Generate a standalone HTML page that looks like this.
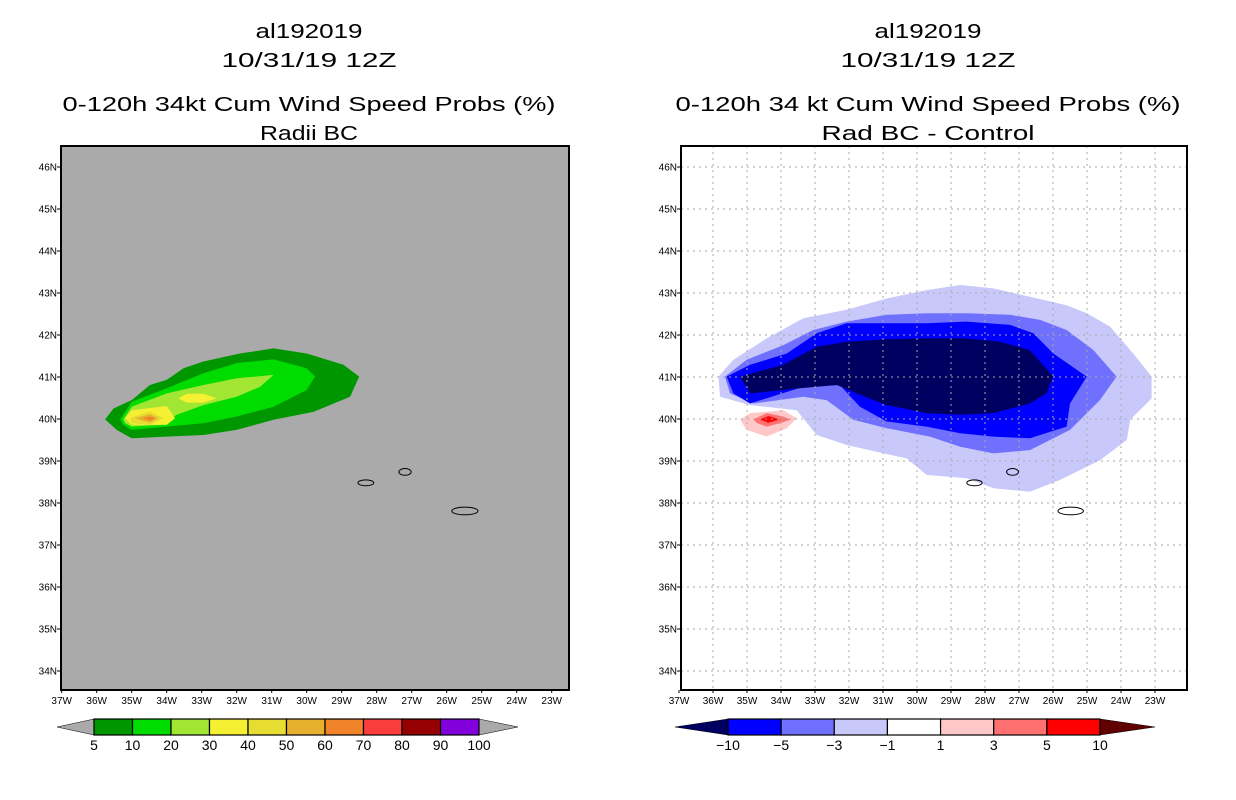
<!DOCTYPE html>
<html><head><meta charset="utf-8">
<style>
html,body{margin:0;padding:0;background:#fff;}
svg{display:block;font-family:"Liberation Sans",sans-serif;}
</style></head>
<body>
<svg id="root" width="1236" height="800" viewBox="0 0 1236 800" xmlns="http://www.w3.org/2000/svg">
  <g font-size="20" text-anchor="middle" fill="#000">
    <text x="309" y="38" textLength="107" lengthAdjust="spacingAndGlyphs">al192019</text>
    <text x="309" y="67" textLength="175" lengthAdjust="spacingAndGlyphs">10/31/19 12Z</text>
    <text x="309" y="111" textLength="493" lengthAdjust="spacingAndGlyphs">0-120h 34kt Cum Wind Speed Probs (%)</text>
    <text x="309" y="140" textLength="98" lengthAdjust="spacingAndGlyphs">Radii BC</text>
  </g>
  <g font-size="20" text-anchor="middle" fill="#000">
    <text x="928" y="38" textLength="107" lengthAdjust="spacingAndGlyphs">al192019</text>
    <text x="928" y="67" textLength="175" lengthAdjust="spacingAndGlyphs">10/31/19 12Z</text>
    <text x="928" y="111" textLength="505" lengthAdjust="spacingAndGlyphs">0-120h 34 kt Cum Wind Speed Probs (%)</text>
    <text x="928" y="140" textLength="213" lengthAdjust="spacingAndGlyphs">Rad BC - Control</text>
  </g>
  <g id="leftPanel"></g>
  <g id="rightPanel"></g>
  <g id="leftBar"></g>
  <g id="rightBar"></g>
</svg>
<script>
// ---------- data ----------
const lonTicks = [37,36,35,34,33,32,31,30,29,28,27,26,25,24,23];
const latTicks = [46,45,44,43,42,41,40,39,38,37,36,35,34];

const leftLevels = ["5","10","20","30","30b","40","50","60"];
const leftColors = ["#009600","#00dc00","#a0e632","#f5f032","#f5f032","#e6dc32","#e6af2d","#f08228"];
const leftPolys = [
 [[35.76,39.99],[35.52,40.25],[35.0,40.45],[34.48,40.81],[34.0,40.93],[33.52,41.21],[32.95,41.37],[31.91,41.56],[30.95,41.68],[30.0,41.56],[28.95,41.29],[28.5,41.01],[28.76,40.53],[29.81,40.17],[30.95,39.98],[32.0,39.74],[32.95,39.62],[34.0,39.58],[35.0,39.54],[35.43,39.74]],
 [[35.33,39.99],[35.0,40.41],[34.0,40.73],[32.95,41.09],[32.0,41.33],[30.95,41.42],[30.0,41.21],[29.76,41.01],[30.0,40.69],[30.95,40.29],[32.0,40.06],[32.95,39.9],[34.0,39.82],[35.0,39.74],[35.24,39.86]],
 [[35.24,39.99],[35.0,40.29],[34.0,40.61],[32.95,40.81],[32.0,40.97],[30.95,41.05],[31.33,40.77],[32.0,40.53],[32.95,40.33],[33.71,40.1],[34.19,39.86],[35.0,39.82],[35.19,39.9]],
 [[35.19,40.02],[35.0,40.21],[34.0,40.31],[33.76,40.02],[34.0,39.86],[35.0,39.86]],
 [[33.67,40.49],[33.43,40.6],[32.95,40.6],[32.57,40.49],[32.95,40.39],[33.43,40.39]],
 [[35.05,40.02],[34.48,40.18],[34.1,40.02],[34.48,39.86],[35.0,39.9]],
 [[34.91,40.02],[34.48,40.11],[34.24,40.02],[34.48,39.91]],
 [[34.67,40.02],[34.48,40.06],[34.33,40.02],[34.48,39.96]]
];

const rightLevels = ["-1","-3","-5","-10","1","3","5"];
const rightColors = ["#c8c8fa","#7070ff","#0000ff","#000060","#ffc8c8","#ff7070","#ff0000"];
const rightPolys = [
 [[35.84,41.01],[35.4,41.41],[34.42,41.92],[33.34,42.4],[32.07,42.6],[30.89,42.87],[29.72,43.07],[28.73,43.19],[27.75,43.11],[26.68,42.91],[25.6,42.71],[25.01,42.52],[24.32,42.2],[23.64,41.56],[23.1,41.01],[23.1,40.49],[23.73,39.98],[23.83,39.5],[24.62,39.02],[25.79,38.55],[26.68,38.27],[27.75,38.35],[28.54,38.59],[29.72,38.67],[30.3,39.06],[32.07,39.38],[32.95,39.62],[33.54,40.21],[34.91,40.33],[35.79,40.53]],
 [[35.65,41.01],[35.01,41.41],[33.93,41.76],[33.05,42.12],[32.07,42.32],[30.89,42.48],[29.72,42.52],[28.54,42.52],[27.26,42.48],[26.38,42.36],[25.6,42.12],[24.81,41.64],[24.13,41.01],[24.62,40.45],[25.5,39.74],[26.68,39.26],[27.75,39.18],[28.73,39.34],[29.62,39.58],[30.89,39.78],[31.87,39.98],[32.66,40.45],[33.34,40.53],[34.81,40.37],[35.5,40.61]],
 [[35.6,41.01],[34.91,41.29],[33.83,41.56],[32.95,42.04],[32.07,42.28],[30.89,42.28],[29.72,42.28],[28.54,42.32],[27.26,42.24],[26.58,42.04],[25.99,41.56],[25.01,41.01],[25.5,40.37],[25.6,39.82],[26.68,39.54],[27.75,39.58],[28.73,39.66],[29.72,39.82],[30.89,39.94],[31.68,40.29],[32.27,40.81],[33.34,40.77],[34.91,40.37],[35.4,40.61]],
 [[35.21,41.01],[33.93,41.29],[32.95,41.72],[32.07,41.84],[30.89,41.9],[29.72,41.92],[28.54,41.92],[27.56,41.84],[26.68,41.64],[25.99,41.01],[26.19,40.61],[26.68,40.37],[27.75,40.14],[28.73,40.1],[29.72,40.14],[30.89,40.33],[31.77,40.61],[32.36,40.81],[33.44,40.73],[34.91,40.61]],
 [[35.2,39.98],[34.91,40.14],[33.93,40.21],[33.54,40.02],[33.83,39.78],[34.42,39.58],[35.01,39.74]],
 [[34.81,39.99],[34.42,40.14],[33.93,40.06],[33.73,39.98],[34.03,39.9],[34.42,39.82],[34.72,39.91]],
 [[34.62,39.99],[34.37,40.07],[34.03,39.99],[34.37,39.91]]
];

const islandLon = [28.31, 27.19, 25.48];
const islandLat = [38.48, 38.74, 37.81];
const islandW = [0.45, 0.35, 0.75];
const islandH = [0.07, 0.09, 0.11];

const leftBarLabels = ["5","10","20","30","40","50","60","70","80","90","100"];
const leftBarColors = ["#009600","#00dc00","#a0e632","#f5f032","#e6dc32","#e6af2d","#f08228","#fa3c3c","#960000","#8200dc"];
const rightBarLabels = ["\u221210","\u22125","\u22123","\u22121","1","3","5","10"];
const rightBarColors = ["#0000ff","#7070ff","#c8c8fa","#ffffff","#ffc8c8","#ff7070","#ff0000"];

// ---------- drawing ----------
const NS = "http://www.w3.org/2000/svg";
function mk(tag, attrs, parent){
  const e = document.createElementNS(NS, tag);
  for (const k in attrs) e.setAttribute(k, attrs[k]);
  parent.appendChild(e); return e;
}
function axes(x0, dx, frameL, frameR){
  return {
    x: lon => x0 + (37 - lon) * dx,
    y: lat => 167 + (46 - lat) * 42,
    L: frameL, R: frameR, T: 146, B: 690
  };
}
function drawPanel(g, ax, bg, polys, colors, levels, grid, clipId){
  const defs = mk("defs", {}, g);
  const cp = mk("clipPath", {id: clipId}, defs);
  mk("rect", {x: ax.L, y: ax.T, width: ax.R - ax.L, height: ax.B - ax.T}, cp);
  const bgR = mk("rect", {x: ax.L, y: ax.T, width: ax.R - ax.L, height: ax.B - ax.T, fill: bg}, g);
  
  
  const cg = mk("g", {"clip-path": "url(#" + clipId + ")"}, g);
  polys.forEach((p, i) => {
    const pts = p.map(q => ax.x(q[0]).toFixed(1) + "," + ax.y(q[1]).toFixed(1)).join(" ");
    const pg = mk("polygon", {points: pts, fill: colors[i]}, cg);
    
    
  });
  if (grid) {
    lonTicks.forEach(lo => {
      const l = mk("line", {x1: ax.x(lo), x2: ax.x(lo), y1: ax.T, y2: ax.B, stroke: "#aaa", "stroke-width": 1, "stroke-dasharray": "2,4"}, cg);
      
      
    });
    latTicks.forEach(la => {
      const l = mk("line", {x1: ax.L, x2: ax.R, y1: ax.y(la), y2: ax.y(la), stroke: "#aaa", "stroke-width": 1, "stroke-dasharray": "2,4"}, cg);
      
      
    });
  }
  islandLon.forEach((lo, i) => {
    const e = mk("ellipse", {cx: ax.x(lo), cy: ax.y(islandLat[i]), rx: islandW[i] / 2 * (ax.x(0) - ax.x(1)), ry: islandH[i] / 2 * 42 + 1.5, fill: "none", stroke: "#000", "stroke-width": 1}, cg);
    
    
  });
  const fr = mk("rect", {x: ax.L, y: ax.T, width: ax.R - ax.L, height: ax.B - ax.T, fill: "none", stroke: "#000", "stroke-width": 2}, g);
  
  
  latTicks.forEach(la => {
    const y = ax.y(la);
    mk("line", {x1: ax.L - 4, x2: ax.L, y1: y, y2: y, stroke: "#000", "stroke-width": 1}, g);
    const t = mk("text", {x: ax.L - 4, y: y + 3.5, "font-size": 10, "text-anchor": "end"}, g);
    t.textContent = la + "N";
    
    
  });
  lonTicks.forEach(lo => {
    const x = ax.x(lo);
    mk("line", {x1: x, x2: x, y1: ax.B, y2: ax.B + 3, stroke: "#000", "stroke-width": 1}, g);
    const t = mk("text", {x: x, y: ax.B + 14, "font-size": 10, "text-anchor": "middle"}, g);
    t.textContent = lo + "W";
    
    
  });
}
function drawBar(g, x0, x1, tipL, tipR, colors, labels, leftTip, rightTip){
  const n = colors.length, w = (x1 - x0) / n, y0 = 719, y1 = 735, ym = 727;
  const tl = mk("polygon", {points: `${tipL},${ym} ${x0},${y0} ${x0},${y1}`, fill: leftTip, stroke: "#000", "stroke-width": 0.5}, g);
  
  
  const tr = mk("polygon", {points: `${tipR},${ym} ${x1},${y0} ${x1},${y1}`, fill: rightTip, stroke: "#000", "stroke-width": 0.5}, g);
  
  
  colors.forEach((c, i) => {
    const r = mk("rect", {x: x0 + i * w, y: y0, width: w, height: y1 - y0, fill: c, stroke: "#000", "stroke-width": 1.2}, g);
    
    
  });
  labels.forEach((l, i) => {
    const t = mk("text", {x: x0 + i * w, y: 750, "font-size": 14, "text-anchor": "middle"}, g);
    t.textContent = l;
    
    
  });
}
const axL = axes(61.7, 35, 61, 569);
const axR = axes(679, 34, 681, 1187);
drawPanel(document.getElementById("leftPanel"), axL, "#aaaaaa", leftPolys, leftColors, leftLevels, false, "clipL");
drawPanel(document.getElementById("rightPanel"), axR, "#ffffff", rightPolys, rightColors, rightLevels, true, "clipR");
drawBar(document.getElementById("leftBar"), 94, 479, 57, 518, leftBarColors, leftBarLabels, "#aaaaaa", "#aaaaaa");
drawBar(document.getElementById("rightBar"), 728, 1100, 675, 1155, rightBarColors, rightBarLabels, "#000060", "#600000");
</script>
</body></html>
